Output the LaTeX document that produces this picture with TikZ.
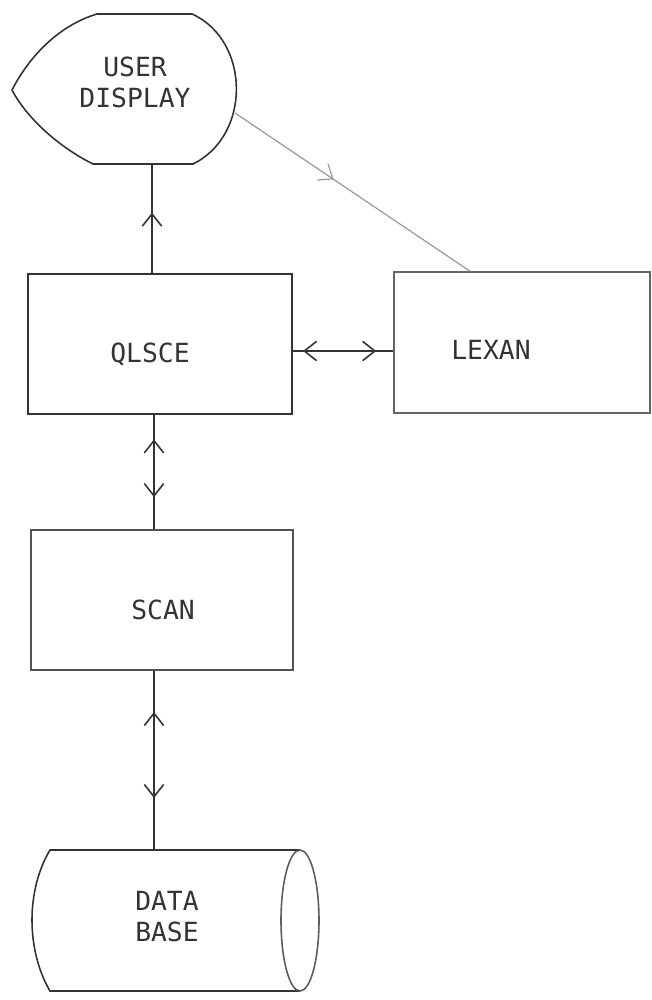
\documentclass[tikz,border=0pt]{standalone}
\usepackage{fontspec}
\usetikzlibrary{arrows.meta,decorations.markings}
\newfontfamily\plotfont{DejaVu Sans Mono}
\definecolor{ink}{HTML}{333333}
\definecolor{faint}{HTML}{9A9A9A}

\begin{document}
\begin{tikzpicture}[
    x=0.02cm, y=-0.02cm,
    >={Straight Barb[length=7pt,width=11pt]},
    block/.style={
        draw,
        color=ink,
        line width=0.9pt,
        rectangle,
    },
    lbl/.style={
        font=\plotfont\fontsize{15}{17.6}\selectfont,
        text=ink,
        align=center
    },
    link/.style={
        draw,
        color=ink,
        line width=0.9pt
    },
    mid/.style={postaction={decorate},
        decoration={markings, mark=at position #1 with {\arrow{>}}}},
    both/.style 2 args={postaction={decorate},
        decoration={markings,
            mark=at position #1 with {\arrow{<}},
            mark=at position #2 with {\arrow{>}}}}
]
\useasboundingbox (0,0) rectangle (652,1000);

% =====================
% BLOCCHI
% =====================
\draw[link] (97,14) -- (192,14)
    .. controls (250,40) and (252,135) .. (193,164) -- (93,164)
    .. controls (55,145) and (25,115) .. (12,90)
    .. controls (30,55) and (60,25) .. cycle;
\node[lbl] at (135,82) (disp) {USER\\DISPLAY};
\coordinate (disp-s) at (152,165);
\coordinate (disp-e) at (235,113);

\node[block, minimum width=5.28cm, minimum height=2.8cm] at (160,344) (qlsce) {};
\node[lbl] at (150,354) (qlsce-t) {QLSCE};

\node[block, color=ink!75, minimum width=5.12cm, minimum height=2.82cm] at (522,342.5) (lexan) {};
\node[lbl] at (491,350) (lexan-t) {LEXAN};

\node[block, color=ink!85, minimum width=5.24cm, minimum height=2.8cm] at (162,600) (scan) {};
\node[lbl] at (163,610) (scan-t) {SCAN};

% database (cilindro)
\draw[link] (300,850) -- (50,850) .. controls (26,890) and (26,950) .. (50,991) -- (300,991);
\draw[link, color=ink!80] (300,920.5) ellipse [x radius=0.38cm, y radius=1.41cm];
\node[lbl] at (167,917) (db) {DATA\\BASE};
\coordinate (db-n) at (154,850);

% =====================
% COLLEGAMENTI
% =====================
\coordinate (axis) at (154,0);
\coordinate (hy) at (0,351);

% QLSCE -> USER DISPLAY
\draw[link, mid=0.56] (disp-s |- qlsce.north) -- (disp-s);

% USER DISPLAY -> LEXAN
\draw[link, color=faint, line width=0.7pt, mid=0.42] (disp-e) -- ([xshift=-1.04cm]lexan.north);

% QLSCE <-> LEXAN
\draw[link, both={0.245}{0.83}] (qlsce.east |- hy) -- (lexan.west |- hy);

% QLSCE <-> SCAN
\draw[link, both={0.34}{0.72}] (axis |- qlsce.south) -- (axis |- scan.north);

% SCAN <-> DATA BASE
\draw[link, both={0.31}{0.71}] (axis |- scan.south) -- (db-n);

\end{tikzpicture}
\end{document}
